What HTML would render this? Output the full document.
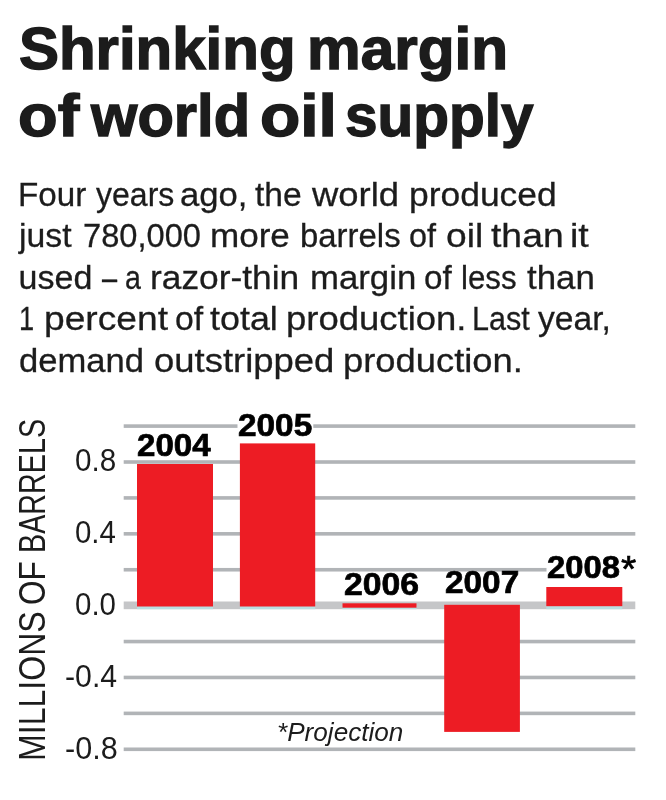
<!DOCTYPE html>
<html lang="en">
<head>
<meta charset="utf-8">
<title>Shrinking margin of world oil supply</title>
<style>
html,body{margin:0;padding:0;background:#fff;}
body{width:666px;height:800px;position:relative;overflow:hidden;font-family:"Liberation Sans",sans-serif;}
h1,p,.g{margin:0;padding:0;font-size:0;line-height:0;}
.w{position:absolute;white-space:nowrap;transform-origin:0 0;display:block;}
.f0 .w{font-size:58.5px;line-height:80px;font-weight:bold;font-style:normal;color:#1c1c1c;-webkit-text-stroke:1.4px #1c1c1c;}
.f1 .w{font-size:34px;line-height:80px;font-weight:normal;font-style:normal;color:#1c1c1c;-webkit-text-stroke:0.3px #1c1c1c;}
.f2 .w{font-size:31px;line-height:80px;font-weight:normal;font-style:normal;color:#1c1c1c;}
.f3 .w{font-size:31px;line-height:80px;font-weight:bold;font-style:normal;color:#000;-webkit-text-stroke:0.7px #000;}
.f3 .w.star{font-size:37px;font-weight:normal;-webkit-text-stroke:0.6px #000;}
.f5 .w{font-size:26.5px;line-height:80px;font-weight:normal;font-style:italic;color:#1c1c1c;}
.rot .w{font-size:36px;line-height:80px;color:#1c1c1c;}
</style>
</head>
<body>
<h1 class="f0">
<span class="w" style="left:19.3px;top:8.6px;transform:scaleX(1.025);">Shrinking</span> <span class="w" style="left:306.5px;top:8.6px;transform:scaleX(1.031);">margin</span>
<span class="w" style="left:18.3px;top:75.8px;transform:scaleX(1.109);">of</span> <span class="w" style="left:90.7px;top:75.8px;transform:scaleX(1.020);">world</span> <span class="w" style="left:260.4px;top:75.8px;transform:scaleX(1.127);">oil</span> <span class="w" style="left:345.0px;top:75.8px;">supply</span>
</h1>
<p class="f1">
<span class="w" style="left:18.2px;top:153.5px;transform:scaleX(0.977);">Four</span> <span class="w" style="left:95.9px;top:153.5px;transform:scaleX(0.942);">years</span> <span class="w" style="left:180.3px;top:153.5px;transform:scaleX(1.020);">ago,</span> <span class="w" style="left:254.7px;top:153.5px;transform:scaleX(0.988);">the</span> <span class="w" style="left:311.9px;top:153.5px;transform:scaleX(1.072);">world</span> <span class="w" style="left:408.5px;top:153.5px;transform:scaleX(1.042);">produced</span>
<span class="w" style="left:19.2px;top:195.1px;transform:scaleX(0.993);">just</span> <span class="w" style="left:82.5px;top:195.1px;transform:scaleX(0.960);">780,000</span> <span class="w" style="left:209.8px;top:195.1px;transform:scaleX(1.031);">more</span> <span class="w" style="left:299.7px;top:195.1px;transform:scaleX(0.968);">barrels</span> <span class="w" style="left:409.4px;top:195.1px;transform:scaleX(0.952);">of</span> <span class="w" style="left:445.8px;top:195.1px;transform:scaleX(1.094);">oil</span> <span class="w" style="left:491.3px;top:195.1px;transform:scaleX(1.098);">than</span> <span class="w" style="left:570.4px;top:195.1px;transform:scaleX(1.103);">it</span>
<span class="w" style="left:18.6px;top:236.7px;">used</span> <span class="w" style="left:102.2px;top:236.7px;transform:scaleX(0.800);">–</span> <span class="w" style="left:125.1px;top:236.7px;transform:scaleX(0.840);">a</span> <span class="w" style="left:149.5px;top:236.7px;transform:scaleX(1.039);">razor-thin</span> <span class="w" style="left:309.6px;top:236.7px;transform:scaleX(1.022);">margin</span> <span class="w" style="left:423.7px;top:236.7px;transform:scaleX(0.978);">of</span> <span class="w" style="left:461.4px;top:236.7px;transform:scaleX(0.919);">less</span> <span class="w" style="left:526.9px;top:236.7px;transform:scaleX(1.025);">than</span>
<span class="w" style="left:19.3px;top:278.3px;transform:scaleX(0.800);">1</span> <span class="w" style="left:44.4px;top:278.3px;transform:scaleX(1.093);">percent</span> <span class="w" style="left:175.4px;top:278.3px;transform:scaleX(0.993);">of</span> <span class="w" style="left:210.4px;top:278.3px;transform:scaleX(1.055);">total</span> <span class="w" style="left:286.0px;top:278.3px;transform:scaleX(1.073);">production.</span> <span class="w" style="left:471.7px;top:278.3px;transform:scaleX(0.898);">Last</span> <span class="w" style="left:538.2px;top:278.3px;transform:scaleX(0.989);">year,</span>
<span class="w" style="left:18.6px;top:319.9px;transform:scaleX(1.018);">demand</span> <span class="w" style="left:153.5px;top:319.9px;transform:scaleX(1.072);">outstripped</span> <span class="w" style="left:342.7px;top:319.9px;transform:scaleX(1.069);">production.</span>
</p>
<svg width="666" height="800" viewBox="0 0 666 800" style="position:absolute;left:0;top:0">
<rect x="123.7" y="424.30" width="511.6" height="3.6" fill="#b1b4b7"/>
<rect x="123.7" y="460.21" width="511.6" height="3.6" fill="#b1b4b7"/>
<rect x="123.7" y="496.12" width="511.6" height="3.6" fill="#b1b4b7"/>
<rect x="123.7" y="532.03" width="511.6" height="3.6" fill="#b1b4b7"/>
<rect x="123.7" y="567.94" width="511.6" height="3.6" fill="#b1b4b7"/>
<rect x="123.7" y="639.76" width="511.6" height="3.6" fill="#b1b4b7"/>
<rect x="123.7" y="675.67" width="511.6" height="3.6" fill="#b1b4b7"/>
<rect x="123.7" y="711.58" width="511.6" height="3.6" fill="#b1b4b7"/>
<rect x="123.7" y="747.49" width="511.6" height="3.6" fill="#b1b4b7"/>
<rect x="123.7" y="601.5" width="511.6" height="7.7" fill="#c5c6c8"/>
<rect x="237.5" y="413.1" width="75.8" height="24" fill="#fff"/>
<rect x="546.5" y="555.7" width="90.4" height="24" fill="#fff"/>
<rect x="137" y="606" width="76.0" height="3.2" fill="#b9dfe2"/>
<rect x="239.9" y="606" width="75.3" height="3.2" fill="#b9dfe2"/>
<rect x="342.5" y="606" width="74.0" height="3.2" fill="#b9dfe2"/>
<rect x="546.3" y="606" width="76.0" height="3.2" fill="#b9dfe2"/>
<rect x="137" y="464" width="76.0" height="142.5" fill="#ed1c24"/>
<rect x="239.9" y="443.4" width="75.3" height="163.1" fill="#ed1c24"/>
<rect x="342.5" y="603.3" width="74.0" height="4.4" fill="#ed1c24"/>
<rect x="444.2" y="604.8" width="75.7" height="127.1" fill="#ed1c24"/>
<rect x="546.3" y="587" width="76.0" height="19.2" fill="#ed1c24"/>
</svg>
<div class="g f2"><span class="w" style="left:75.1px;top:421.2px;transform:scaleX(0.956);">0.8</span></div>
<div class="g f2"><span class="w" style="left:75.1px;top:492.8px;transform:scaleX(0.949);">0.4</span></div>
<div class="g f2"><span class="w" style="left:75.1px;top:565.4px;transform:scaleX(0.950);">0.0</span></div>
<div class="g f2"><span class="w" style="left:64.5px;top:637.2px;transform:scaleX(0.976);">-0.4</span></div>
<div class="g f2"><span class="w" style="left:64.5px;top:709.2px;transform:scaleX(0.986);">-0.8</span></div>
<div class="g f3"><span class="w" style="left:136.5px;top:406.3px;transform:scaleX(1.067);">2004</span></div>
<div class="g f3"><span class="w" style="left:238.3px;top:385.6px;transform:scaleX(1.076);">2005</span></div>
<div class="g f3"><span class="w" style="left:343.7px;top:544.8px;transform:scaleX(1.088);">2006</span></div>
<div class="g f3"><span class="w" style="left:445.3px;top:542.8px;transform:scaleX(1.076);">2007</span></div>
<div class="g f3"><span class="w" style="left:547.3px;top:528.2px;transform:scaleX(1.058);">2008</span><span class="w star" style="left:620.5px;top:530.4px;transform:scaleX(1.062);">*</span></div>
<div class="g f5"><span class="w" style="left:276.7px;top:691.6px;transform:scaleX(0.986);">*Projection</span></div>
<div class="g rot"><span class="w" style="left:-7.2px;top:760.8px;transform:rotate(-90deg) scaleX(0.891);">MILLIONS</span> <span class="w" style="left:-7.2px;top:604.6px;transform:rotate(-90deg) scaleX(0.879);">OF</span> <span class="w" style="left:-7.2px;top:553.0px;transform:rotate(-90deg) scaleX(0.798);">BARRELS</span></div>
</body>
</html>
